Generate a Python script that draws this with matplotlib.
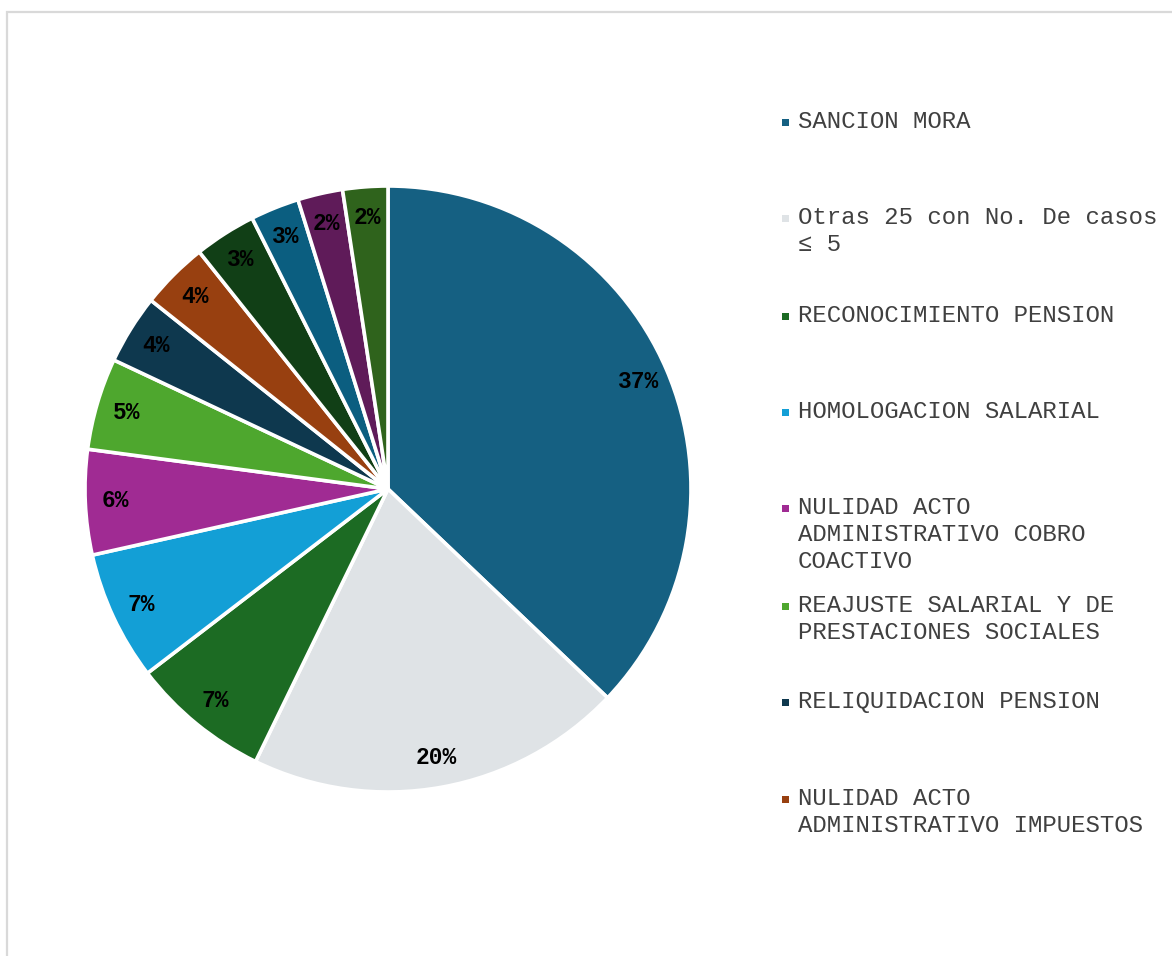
import matplotlib
matplotlib.use("Agg")
import matplotlib.pyplot as plt
from matplotlib.patches import Rectangle

# slice shares (%) clockwise from 12 o'clock
shares = [37.1, 20.1, 7.4, 6.9, 5.6, 4.9, 3.7, 3.6, 3.3, 2.6, 2.4, 2.4]
colors = ["#156082", "#dfe3e6", "#1c6b23", "#139fd6", "#a02b93", "#4ea72e",
          "#0e384e", "#984010", "#113f16", "#0b5e80", "#5f1b59", "#2f631c"]
# only these entries are visible in the (cropped) legend
legend_labels = [
    "SANCION MORA",
    "Otras 25 con No. De casos\n≤ 5",
    "RECONOCIMIENTO PENSION",
    "HOMOLOGACION SALARIAL",
    "NULIDAD ACTO\nADMINISTRATIVO COBRO\nCOACTIVO",
    "REAJUSTE SALARIAL Y DE\nPRESTACIONES SOCIALES",
    "RELIQUIDACION PENSION",
    "NULIDAD ACTO\nADMINISTRATIVO IMPUESTOS",
]
legend_y = [122, 218, 316, 412, 508, 606, 702, 799]

W, H = 1172, 956
fig = plt.figure(figsize=(W / 100, H / 100), dpi=100)

# chart frame, cut off at the right and bottom
fig.patches.append(Rectangle((7 / W, -0.1), 1.2, (H - 12) / H + 0.1,
                             transform=fig.transFigure, fill=False,
                             edgecolor="#d9d9d9", linewidth=1.6))

cx, cy, r = 388, 489, 303
ax = fig.add_axes([(cx - r) / W, 1 - (cy + r) / H, 2 * r / W, 2 * r / H])
wedges, texts, autotexts = ax.pie(
    shares, colors=colors, startangle=90, counterclock=False,
    autopct="%.0f%%", pctdistance=0.9, radius=1.0,
    wedgeprops=dict(edgecolor="white", linewidth=2.6),
    textprops=dict(family="Liberation Mono", fontsize=16.5,
                   fontweight="bold", color="black"),
)
ax.set_xlim(-1, 1)
ax.set_ylim(-1, 1)
ax.set_aspect("equal")

for lab, y, col in zip(legend_labels, legend_y, colors):
    fig.patches.append(Rectangle((782 / W, 1 - (y + 4) / H), 7 / W, 7 / H,
                                 transform=fig.transFigure,
                                 facecolor=col, edgecolor="none"))
    fig.text(798 / W, 1 - (y - 12) / H, lab, family="Liberation Mono",
             fontsize=17.3, color="#404040", va="top", ha="left",
             linespacing=1.22)

fig.savefig("out.png", dpi=100, facecolor="white")
